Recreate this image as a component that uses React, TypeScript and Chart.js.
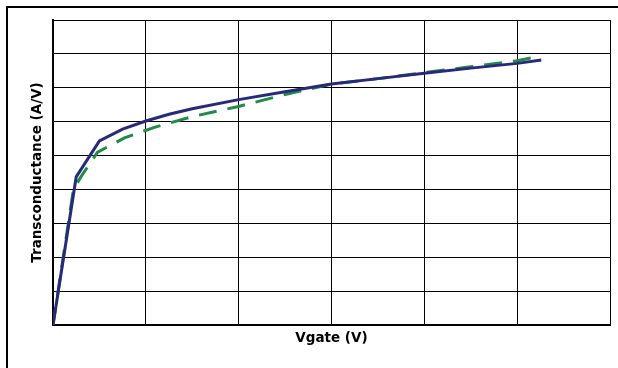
import React, { useEffect, useRef } from "react";
import { Chart, registerables } from "chart.js";

Chart.register(...registerables);

// Vgate (grid units) and transconductance (grid units)
const blueX = [0, 0.25, 0.5, 0.75, 1.0, 1.25, 1.5, 2.0, 2.5, 3.0, 3.5, 4.0, 4.5, 5.0, 5.26];
const blueY = [0, 4.37, 5.43, 5.78, 6.02, 6.22, 6.38, 6.65, 6.88, 7.11, 7.27, 7.43, 7.58, 7.72, 7.82];

const greenX = [0, 0.22, 0.3, 0.48, 0.77, 1.1, 1.5, 2.0, 2.5, 3.0, 3.5, 4.0, 4.5, 5.0, 5.22];
const greenY = [0, 4.0, 4.37, 5.1, 5.52, 5.84, 6.15, 6.45, 6.8, 7.11, 7.27, 7.45, 7.62, 7.8, 7.92];

const xTitle = "Vgate (V)";
const yTitle = "Transconductance (A/V)";
const xMin = 0, xMax = 6, yMin = 0, yMax = 9;

const toPoints = (xs: number[], ys: number[]) => xs.map((x, i) => ({ x, y: ys[i] }));

export default function App() {
  const ref = useRef<HTMLCanvasElement | null>(null);
  useEffect(() => {
    if (!ref.current) return;
    const font = { family: "'DejaVu Sans', sans-serif", size: 13.5, weight: "bold" as const, lineHeight: 1.2 };
    const chart = new Chart(ref.current, {
      type: "scatter",
      data: {
        datasets: [
          {
            data: toPoints(blueX, blueY),
            showLine: true,
            borderColor: "#28297A",
            borderWidth: 3,
            pointRadius: 0,
            tension: 0,
          },
          {
            data: toPoints(greenX, greenY),
            showLine: true,
            borderColor: "#1E8B47",
            borderWidth: 3,
            borderDash: [18, 11],
            pointRadius: 0,
            tension: 0,
          },
        ],
      },
      options: {
        responsive: false,
        animation: false,
        events: [],
        layout: { padding: { top: 20, right: 8, left: 0, bottom: 0 } },
        plugins: { legend: { display: false }, tooltip: { enabled: false }, title: { display: false } },
        scales: {
          x: {
            type: "linear",
            min: xMin,
            max: xMax,
            ticks: { display: false, stepSize: 1 },
            grid: { color: "#000", lineWidth: 1, drawTicks: false },
            border: { color: "#000", width: 2 },
            title: { display: true, text: xTitle, color: "#000", font, padding: { top: 0, bottom: 21 } },
            afterFit: (s: any) => { s.height = 43; },
          },
          y: {
            type: "linear",
            min: yMin,
            max: yMax,
            ticks: { display: false, stepSize: 1 },
            grid: { color: "#000", lineWidth: 1, drawTicks: false },
            border: { color: "#000", width: 2 },
            title: { display: true, text: yTitle, color: "#000", font, padding: { top: 29, bottom: 0 } },
            afterFit: (s: any) => { s.width = 53; },
          },
        },
      },
    });
    return () => chart.destroy();
  }, []);
  return (
    <div style={{ position: "fixed", left: 0, top: 0, width: 618, height: 368, overflow: "hidden", background: "#fff" }}>
      <canvas ref={ref} width={618} height={368} style={{ position: "absolute", left: 0, top: 0, display: "block" }} />
      <div style={{ position: "absolute", left: 6, top: 6, width: 700, height: 500, border: "2px solid #000", pointerEvents: "none" }} />
    </div>
  );
}
